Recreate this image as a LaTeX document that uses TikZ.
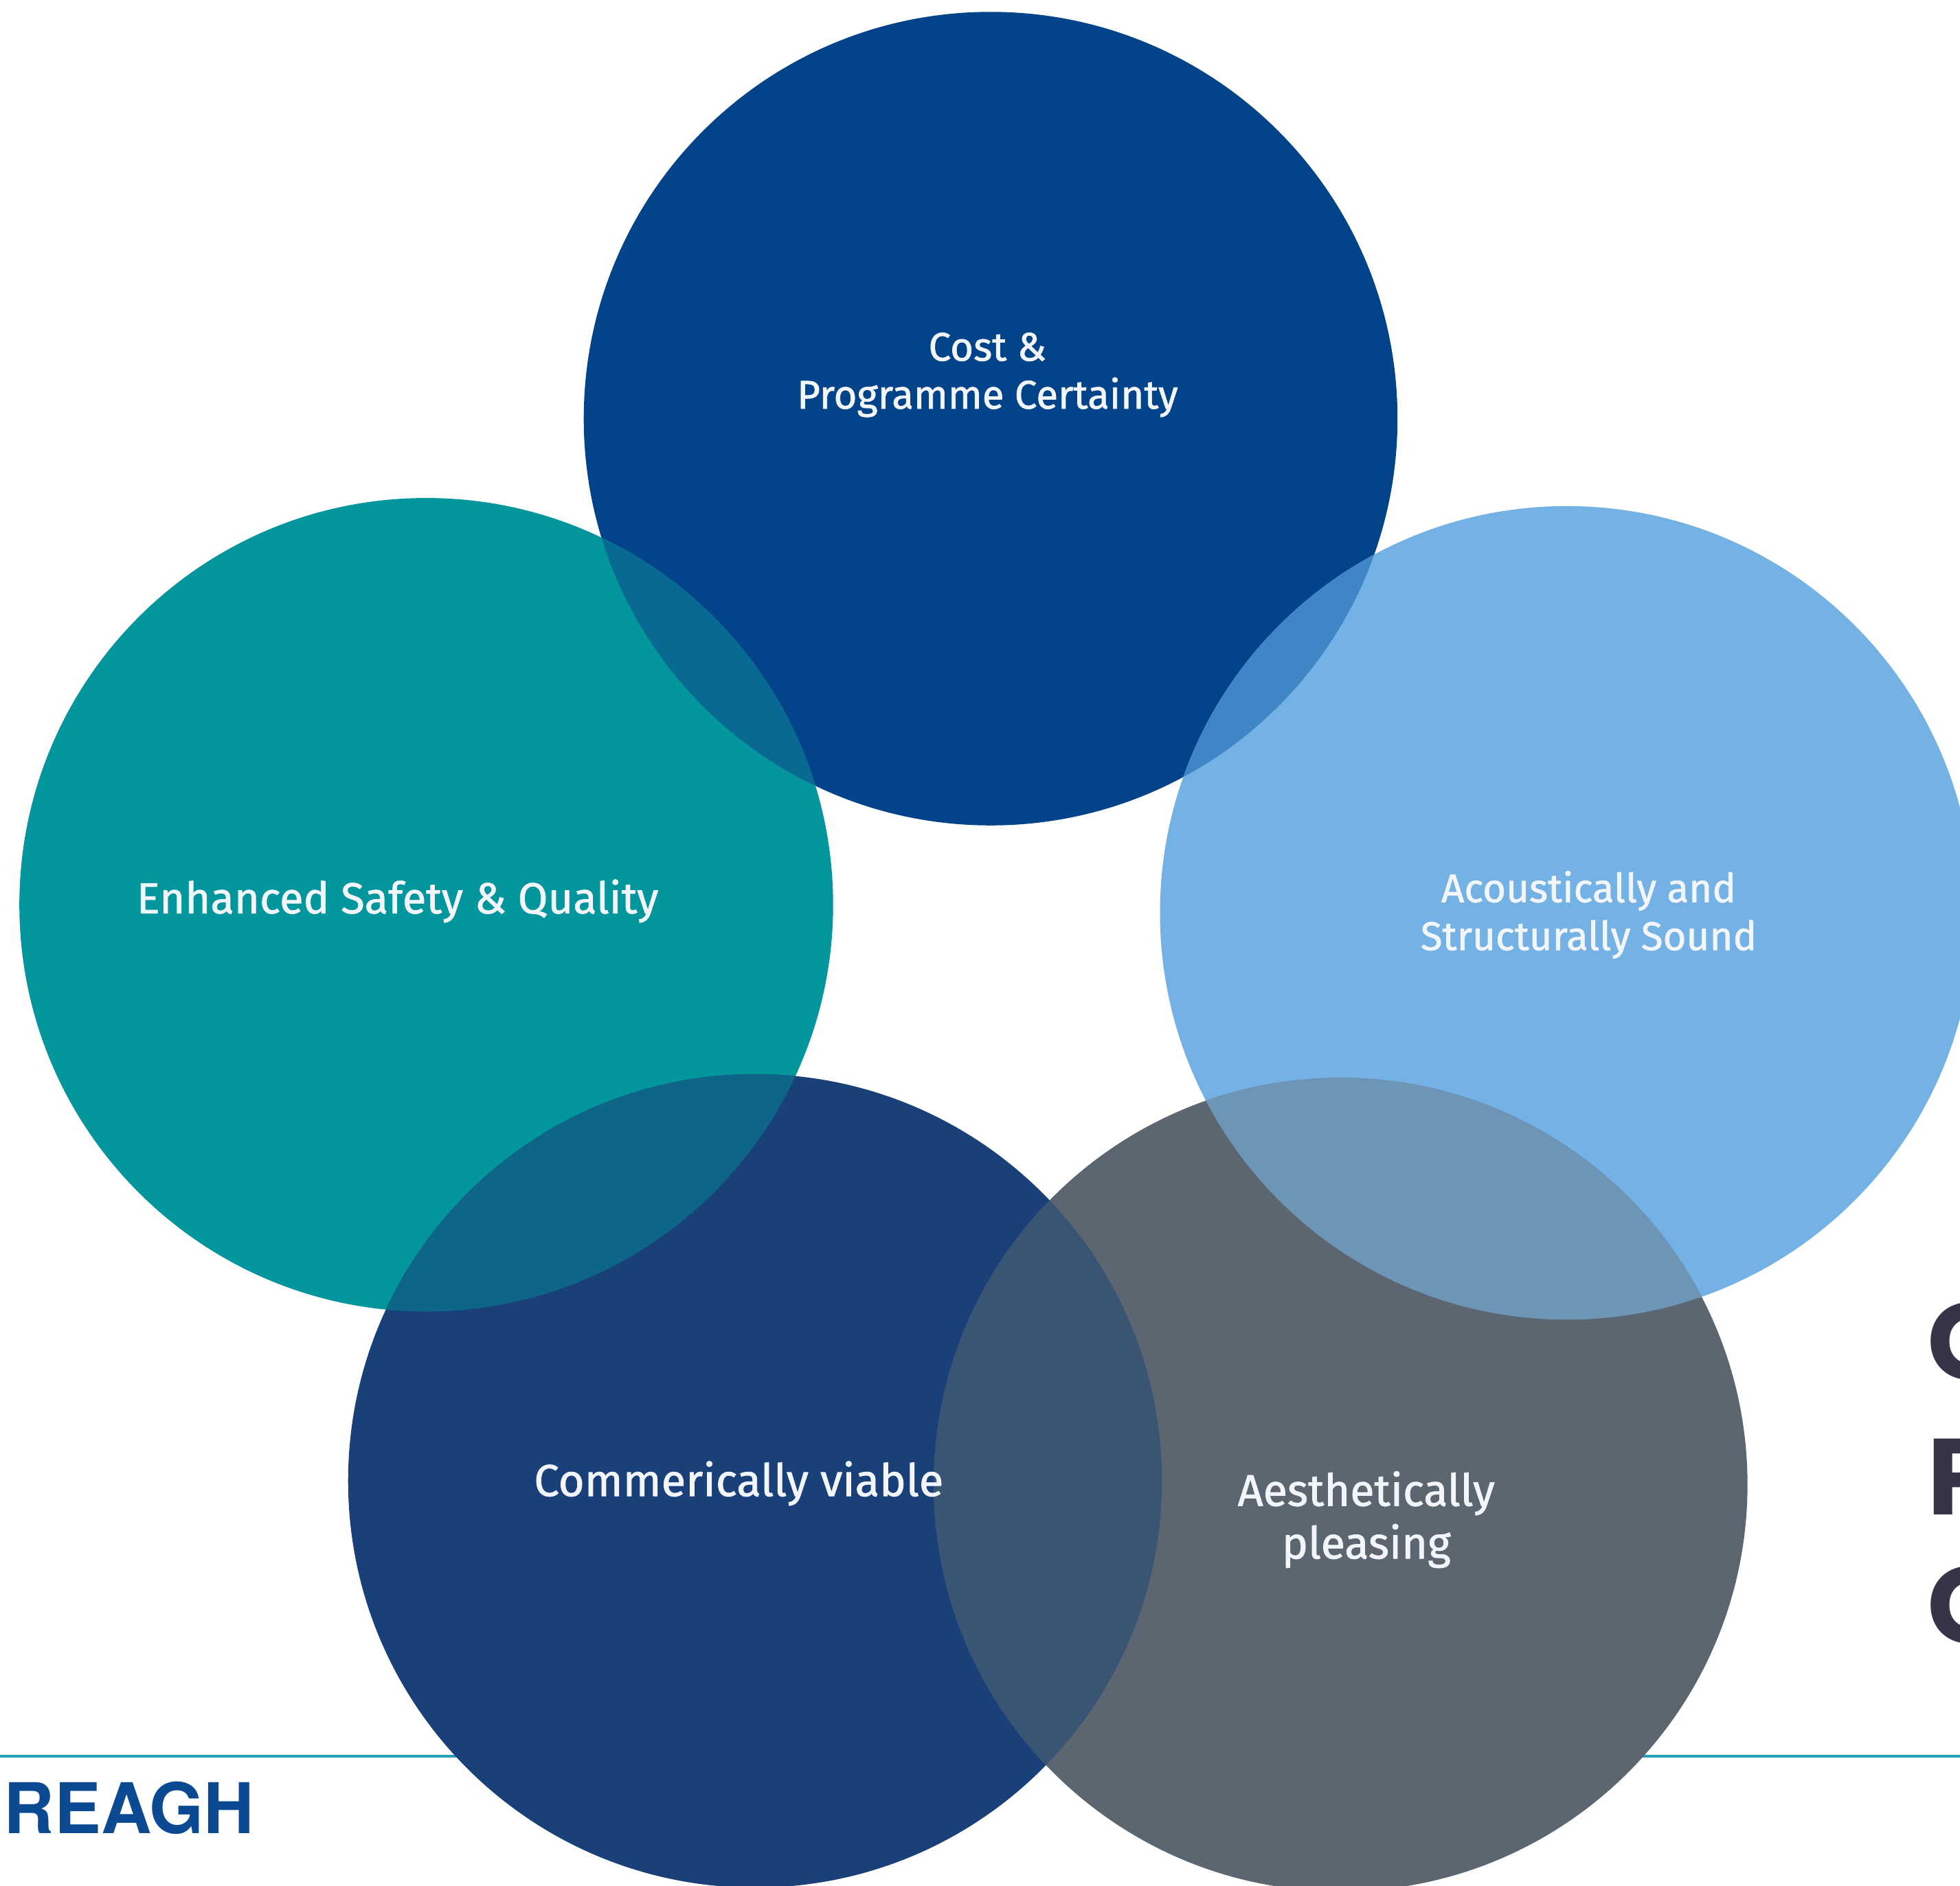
\documentclass[tikz,border=0pt]{standalone}
\usepackage{fontspec}
\setmainfont{Fira Sans}
\newfontfamily\lblfont{Fira Sans}[FakeBold=1.2]
\newfontfamily\herosfont{TeX Gyre Heros}
\newfontfamily\poppfont{Poppins}
\definecolor{cTop}{HTML}{03438A}
\definecolor{cLeft}{HTML}{03969C}
\definecolor{cRight}{HTML}{74B2E5}
\definecolor{cBL}{HTML}{1A407A}
\definecolor{cBR}{HTML}{5C6670}
\definecolor{oTL}{HTML}{086A92}
\definecolor{oTR}{HTML}{3E86C6}
\definecolor{oLB}{HTML}{0E6587}
\definecolor{oBB}{HTML}{3A5474}
\definecolor{oBR}{HTML}{6D95B5}
\definecolor{rule}{HTML}{2AA0C0}
\definecolor{logo}{HTML}{0B4A93}
\definecolor{heading}{HTML}{373447}
\definecolor{labeltext}{HTML}{F2F6FB}
\begin{document}
\begin{tikzpicture}[x=0.01cm,y=-0.01cm,
  lbl/.style={text=labeltext,align=center,inner sep=0pt,font=\lblfont\fontsize{9.1}{10.9}\selectfont},
  bigletter/.style={text=heading,anchor=base west,inner sep=0pt,font=\poppfont\bfseries\fontsize{24.6}{24.6}\selectfont}]
\useasboundingbox (0,0) rectangle (1568,1509);
\fill[white] (0,0) rectangle (1568,1509);
% rule line
\coordinate (ruleL) at (0,1405.3);
\coordinate (ruleR) at (1568,1405.3);
\draw[rule,line width=0.5pt] (ruleL) -- (ruleR);
% centres
\coordinate (cT) at (792.5,335);
\coordinate (cL) at (341,724);
\coordinate (cR) at (1253.5,730.5);
\coordinate (cB1) at (604,1185);
\coordinate (cB2) at (1072.5,1188);
\def\rr{325.5}
% circles
\fill[cTop] (cT) circle (\rr);
\fill[cLeft] (cL) circle (\rr);
\fill[cRight] (cR) circle (\rr);
\fill[cBL] (cB1) circle (\rr);
\fill[cBR] (cB2) circle (\rr);
% overlaps
\begin{scope}\clip (cT) circle (\rr); \fill[oTL] (cL) circle (\rr);\end{scope}
\begin{scope}\clip (cT) circle (\rr); \fill[oTR] (cR) circle (\rr);\end{scope}
\begin{scope}\clip (cL) circle (\rr); \fill[oLB] (cB1) circle (\rr);\end{scope}
\begin{scope}\clip (cB1) circle (\rr); \fill[oBB] (cB2) circle (\rr);\end{scope}
\begin{scope}\clip (cR) circle (\rr); \fill[oBR] (cB2) circle (\rr);\end{scope}
% labels
\node[lbl] (tTop) at (790,300) {Cost \&\\Programme Certainty};
\node[lbl,font=\lblfont\fontsize{9.9}{11.8}\selectfont] (tLeft) at (318,721) {Enhanced Safety \& Quality};
\node[lbl] (tRight) at (1271,732) {Acoustically and\\Structurally Sound};
\node[lbl,font=\lblfont\fontsize{10.2}{12}\selectfont] (tBL) at (591,1187) {Commerically viable};
\node[lbl,font=\lblfont\fontsize{10.1}{12}\selectfont] (tBR) at (1093,1216) {Aesthetically\\pleasing};
% logo
\node[anchor=west,inner sep=0pt,text=logo,font=\herosfont\bfseries\fontsize{15.9}{15.9}\selectfont] (logo) at (2.5,1446.8) {REAGH};
% heading letters cut at right edge
\begin{scope}
\clip (0,0) rectangle (1568,1509);
\node[bigletter] (h1) at (1541,1104) {C};
\node[bigletter] (h2) at (1541,1212) {P};
\node[bigletter] (h3) at (1541,1315) {C};
\end{scope}
\end{tikzpicture}
\end{document}
